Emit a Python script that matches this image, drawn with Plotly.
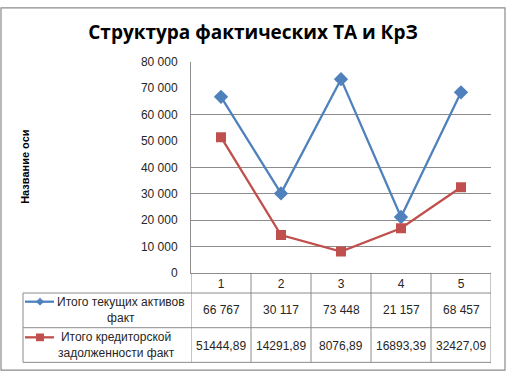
import plotly.graph_objects as go

W, H = 507, 379

categories = [1, 2, 3, 4, 5]
category_labels = ["1", "2", "3", "4", "5"]
series1_name = "Итого текущих активов факт"
series1_values = [66767, 30117, 73448, 21157, 68457]
series1_text = ["66 767", "30 117", "73 448", "21 157", "68 457"]
series2_name = "Итого кредиторской задолженности факт"
series2_values = [51444.89, 14291.89, 8076.89, 16893.39, 32427.09]
series2_text = ["51444,89", "14291,89", "8076,89", "16893,39", "32427,09"]
y_tick_values = [0, 10000, 20000, 30000, 40000, 50000, 60000, 70000, 80000]
y_grid_values = [10000, 20000, 30000, 40000, 60000, 80000]
title_text = "Структура фактических ТА и КрЗ"
y_axis_title = "Название оси"

BLUE = "#4F81BD"
RED = "#C0504D"
GRID = "#8C8C8C"
TXT = "#262626"
FONT = "Liberation Sans"


def px(x):
    return x / W


def py(y):
    return 1 - y / H


# plot area (pixels)
L, R, T, B = 191, 491, 57, 276
TAB_L = 23
ROW1, ROW2, ROW_END = 297, 333, 369

fig = go.Figure()
fig.add_trace(go.Scatter(
    x=categories, y=series1_values, mode="lines+markers", name=series1_name,
    line=dict(color=BLUE, width=2.3),
    marker=dict(symbol="diamond", size=11, color=BLUE),
    showlegend=False,
))
fig.add_trace(go.Scatter(
    x=categories, y=series2_values, mode="lines+markers", name=series2_name,
    line=dict(color=RED, width=2.3),
    marker=dict(symbol="square", size=10, color=RED),
    showlegend=False,
))
# invisible trace for the grid axis
fig.add_trace(go.Scatter(x=[categories[0]], y=[0], yaxis="y2", mode="markers",
                         marker=dict(opacity=0), showlegend=False, hoverinfo="skip"))

shapes = []
line_style = dict(color=GRID, width=1)
# table horizontal lines
for yy in (ROW1, ROW2, ROW_END):
    shapes.append(dict(type="line", xref="paper", yref="paper",
                       x0=px(TAB_L), x1=px(R), y0=py(yy), y1=py(yy), line=line_style))
# table left border
shapes.append(dict(type="line", xref="paper", yref="paper",
                   x0=px(TAB_L), x1=px(TAB_L), y0=py(ROW1), y1=py(ROW_END), line=line_style))
# column dividers (category boundaries)
bounds = [c - 0.5 for c in categories] + [categories[-1] + 0.5]
for b in bounds:
    shapes.append(dict(type="line", xref="x", yref="paper",
                       x0=b, x1=b, y0=py(B), y1=py(ROW_END), line=line_style))
# outer frame
shapes.append(dict(type="rect", xref="paper", yref="paper",
                   x0=px(1), x1=px(505), y0=py(377), y1=py(1),
                   line=dict(color="#8A8A8A", width=1.2)))
# legend keys inside the table
key_rows = [(306, BLUE, "diamond"), (343, RED, "square")]
for ky, col, sym in key_rows:
    shapes.append(dict(type="line", xref="paper", yref="paper",
                       x0=px(25), x1=px(54), y0=py(ky), y1=py(ky),
                       line=dict(color=col, width=2.3)))
    cx = 40
    if sym == "diamond":
        path = "M {} {} L {} {} L {} {} L {} {} Z".format(
            px(cx - 4), py(ky), px(cx), py(ky - 4), px(cx + 4), py(ky), px(cx), py(ky + 4))
        shapes.append(dict(type="path", xref="paper", yref="paper", path=path,
                           fillcolor=col, line=dict(color=col, width=0)))
    else:
        shapes.append(dict(type="rect", xref="paper", yref="paper",
                           x0=px(cx - 4), x1=px(cx + 4), y0=py(ky + 4), y1=py(ky - 4),
                           fillcolor=col, line=dict(color=col, width=0)))

annotations = []
cell_font = dict(family=FONT, size=12, color=TXT)
common = dict(showarrow=False, xanchor="center", yanchor="middle")
# row labels
annotations.append(dict(xref="paper", yref="paper", x=px(121), y=py(315),
                        text="Итого текущих активов<br>факт",
                        align="center", font=cell_font, **common))
annotations.append(dict(xref="paper", yref="paper", x=px(116), y=py(351),
                        text="Итого кредиторской<br>задолженности факт",
                        align="center", font=cell_font, **common))
# values
for c, t1, t2 in zip(categories, series1_text, series2_text):
    annotations.append(dict(xref="x", yref="paper", x=c, y=py(315), text=t1,
                            font=cell_font, **common))
    annotations.append(dict(xref="x", yref="paper", x=c, y=py(352), text=t2,
                            font=cell_font, **common))
# y axis title
annotations.append(dict(xref="paper", yref="paper", x=px(25), y=py(166),
                        text="<b>" + y_axis_title + "</b>", textangle=-90,
                        font=dict(family=FONT, size=11, color="#000"), **common))

fig.update_layout(
    width=W, height=H,
    margin=dict(l=0, r=0, t=0, b=0),
    paper_bgcolor="white", plot_bgcolor="white",
    separators=", ",
    title=dict(text="<b>" + title_text + "</b>", x=px(253), y=py(26),
               xanchor="center", yanchor="middle", xref="paper", yref="paper",
               font=dict(family="Open Sans", size=19, color="#000")),
    xaxis=dict(domain=[px(L), px(R)], range=[0.5, 5.5], tickvals=categories,
               ticktext=category_labels, showgrid=False, zeroline=False,
               showline=True, linecolor=GRID, linewidth=1, ticks="",
               tickfont=dict(family=FONT, size=12, color=TXT)),
    yaxis=dict(domain=[py(B), py(T)], range=[0, 80000], tickvals=y_tick_values,
               tickformat=",d", showgrid=False, zeroline=False,
               showline=True, linecolor=GRID, linewidth=1,
               ticks="outside", ticklen=10, tickcolor="rgba(0,0,0,0)",
               tickfont=dict(family=FONT, size=12, color=TXT)),
    yaxis2=dict(domain=[py(B), py(T)], range=[0, 80000], overlaying="y",
                tickvals=y_grid_values, showticklabels=False, showgrid=True,
                gridcolor=GRID, gridwidth=1, zeroline=False, showline=False),
    shapes=shapes,
    annotations=annotations,
)

fig.write_html("out.html")
